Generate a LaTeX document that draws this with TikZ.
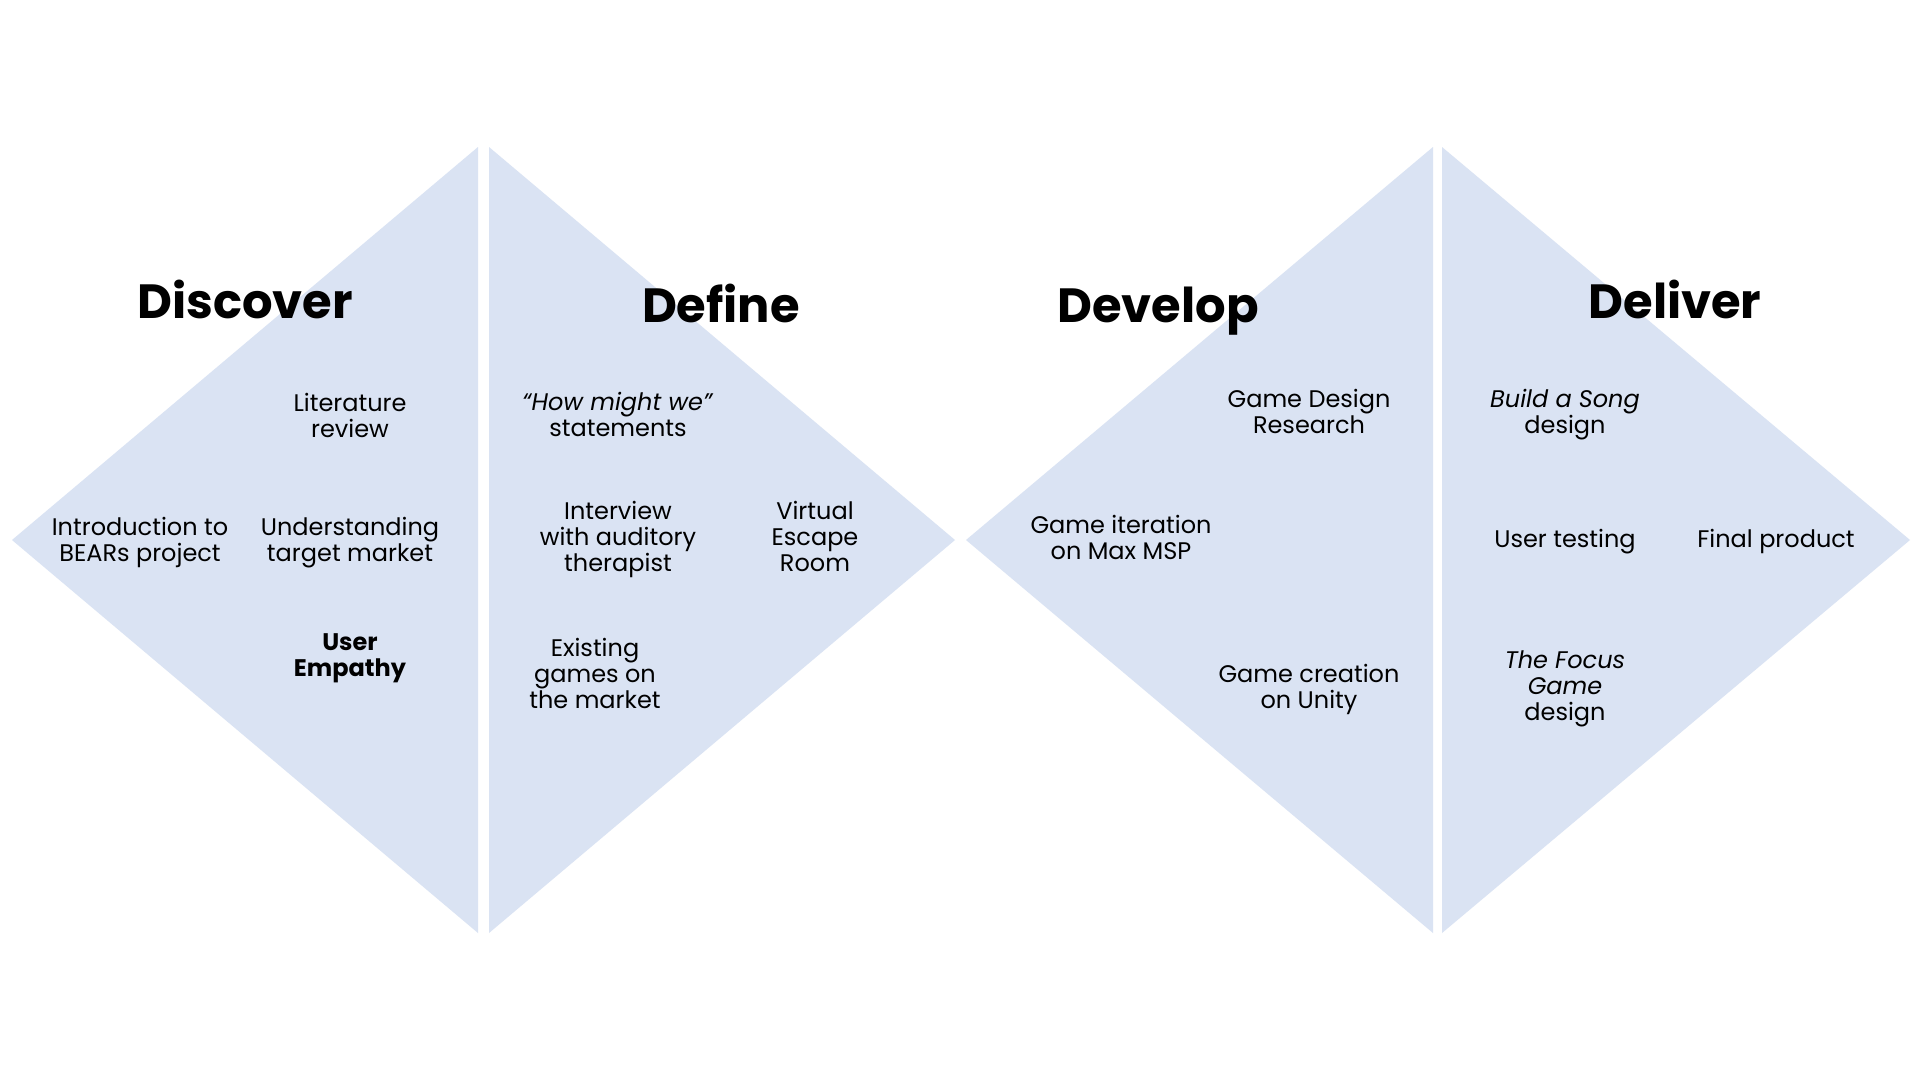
\documentclass[tikz,border=0pt]{standalone}
\usepackage{fontspec}
\setmainfont{Poppins}
\usetikzlibrary{positioning}
\definecolor{phasefill}{HTML}{DAE3F3}
\tikzset{
  phase/.style={fill=phasefill, draw=none},
  title/.style={font=\fontsize{48}{52}\selectfont\bfseries, inner sep=0pt, anchor=base},
  item/.style={font=\fontsize{24}{26}\selectfont, align=center, inner sep=0pt},
}
\begin{document}
\begin{tikzpicture}[x=1pt, y=-1pt]
        \useasboundingbox[fill=white] (0,0) rectangle (1920,1080);
        % the two diamonds, each split in half
        \fill[phase] (478,147) -- (12,540) -- (478,933) -- cycle;
        \fill[phase] (489,147) -- (955,540) -- (489,933) -- cycle;
        \fill[phase] (1433,147) -- (966,540) -- (1433,933) -- cycle;
        \fill[phase] (1442,147) -- (1910,540) -- (1442,933) -- cycle;
        % titles
        \node[title] (Disc) at (245,318) {Discover};
        \node[title] (Def) at (721,322) {Define};
        \node[title] (Dev) at (1158,322) {Develop};
        \node[title] (Del) at (1675,318) {Deliver};
        % Discover
        \node[item] (LitRev) at (350,415) {Literature\\review};
        \node[item] (Intro) at (140,542) {Introduction to\\BEARs project};
        \node[item] (Target) at (350,543) {Understanding\\target market};
        \node[item, font=\fontsize{24}{26}\selectfont\bfseries] (Empathy) at (350,658) {User\\Empathy};
        % Define
        \node[item] (HMW) at (618,414) {\textit{“How might we”}\\statements};
        \node[item] (Interview) at (618,539) {Interview\\with auditory\\therapist};
        \node[item] (Escape) at (815,536) {Virtual\\Escape\\Room};
        \node[item] (Existing) at (595,673) {Existing\\games on\\the market};
        % Develop
        \node[item] (Research) at (1309,411) {Game Design\\Research};
        \node[item] (MaxMSP) at (1121,537) {Game iteration\\on Max MSP};
        \node[item] (Unity) at (1309,689) {Game creation\\on Unity};
        % Deliver
        \node[item] (Song) at (1565,415) {\textit{Build a Song}\\design};
        \node[item] (Testing) at (1565,542) {User testing};
        \node[item] (Final) at (1776,541) {Final product};
        \node[item] (Focus) at (1565,689) {\textit{The Focus}\\\textit{Game}\\design};
      \end{tikzpicture}
\end{document}
